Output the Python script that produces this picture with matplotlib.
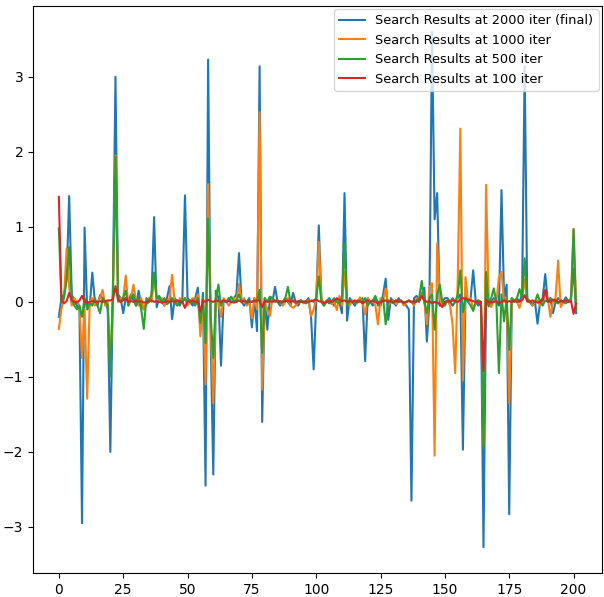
import numpy as np
import matplotlib
matplotlib.use("Agg")
from matplotlib import pyplot as plt

# search results at different iterations, one value per step (0..201)
res_2000 = [
    -0.20, 0.05, 0.10, 0.30, 1.41, 0.10, 0.02, -0.05, -0.10, -2.95,
    0.99, -0.10, -0.05, 0.39, 0.00, -0.05, 0.09, 0.05, 0.00, -0.10,
    -2.00, 0.20, 3.00, 0.10, 0.05, -0.15, 0.05, 0.00, 0.10, 0.02,
    -0.05, 0.15, -0.05, -0.10, -0.03, 0.00, 0.05, 1.13, -0.07, 0.05,
    0.00, -0.05, 0.05, 0.21, -0.23, 0.05, 0.00, -0.05, 0.05, 1.42,
    0.05, 0.00, -0.05, 0.05, 0.19, -0.30, 0.12, -2.45, 3.23, -0.50,
    -2.30, 0.15, 0.05, -0.85, 0.02, 0.00, 0.05, 0.00, 0.05, 0.10,
    0.65, 0.00, -0.05, 0.00, 0.05, -0.34, 0.05, -0.39, 3.14, -1.60,
    0.05, -0.37, 0.05, 0.00, 0.20, 0.00, -0.05, 0.00, 0.05, 0.00,
    -0.05, 0.12, 0.00, -0.05, 0.02, 0.00, 0.00, 0.05, -0.20, -0.90,
    0.00, 1.02, 0.05, -0.04, 0.00, 0.05, 0.00, -0.05, 0.05, 0.00,
    -0.15, 1.45, -0.25, 0.05, 0.00, -0.05, 0.02, 0.00, 0.05, -0.79,
    0.05, 0.00, -0.05, 0.05, 0.00, -0.05, 0.10, 0.31, -0.24, 0.05,
    0.00, -0.05, 0.05, 0.00, 0.00, -0.05, -0.10, -2.65, 0.05, 0.08,
    0.00, 0.10, 0.19, -0.53, 0.00, 3.60, 1.10, 1.45, -0.05, 0.00,
    0.05, 0.05, 0.00, -0.05, 0.00, 0.05, 0.10, -1.97, 0.10, 0.00,
    0.05, 0.42, 0.00, -0.05, 0.00, -3.27, 0.10, -0.06, 0.00, 0.05,
    0.00, -0.05, 1.49, 0.05, 0.23, -2.83, 0.05, 0.00, 0.05, 0.00,
    0.10, 3.14, 0.02, 0.00, -0.05, 0.00, -0.29, 0.00, 0.05, 0.37,
    0.00, 0.05, -0.15, 0.00, 0.05, 0.02, 0.00, 0.06, 0.00, 0.05,
    0.45, -0.15,
]
res_1000 = [
    -0.36, -0.09, 0.05, 0.71, 0.20, -0.05, 0.05, 0.00, -0.05, -0.75,
    -0.10, -1.29, 0.00, 0.05, -0.05, 0.00, 0.05, 0.16, -0.05, 0.00,
    -0.90, 0.10, 1.95, 0.00, 0.05, 0.05, 0.35, -0.05, 0.05, 0.23,
    0.00, -0.05, 0.05, -0.10, 0.00, 0.05, 0.00, 0.30, 0.05, 0.00,
    0.05, -0.05, 0.00, 0.05, 0.36, 0.00, -0.05, 0.05, 0.00, 0.05,
    -0.05, 0.00, 0.05, 0.00, 0.10, -0.46, 0.05, -1.10, 1.57, -0.30,
    -1.35, 0.05, 0.00, -0.20, 0.05, 0.00, -0.05, 0.00, 0.05, 0.00,
    0.24, 0.00, 0.05, -0.05, 0.00, -0.22, 0.05, -0.10, 2.53, -1.17,
    0.00, -0.10, -0.19, 0.05, 0.00, 0.02, 0.00, -0.05, 0.00, 0.05,
    -0.05, -0.08, -0.05, 0.00, 0.02, -0.02, 0.00, 0.02, -0.19, -0.10,
    0.05, 0.80, 0.05, -0.05, 0.00, 0.02, -0.03, 0.00, -0.11, 0.08,
    -0.05, 0.40, 0.00, -0.05, 0.02, 0.00, -0.02, 0.06, 0.00, -0.17,
    0.05, 0.00, 0.02, -0.05, -0.30, 0.05, 0.02, 0.18, -0.05, 0.00,
    0.02, -0.03, 0.00, 0.02, -0.05, 0.00, 0.02, 0.00, -0.05, 0.05,
    0.02, 0.10, 0.00, -0.30, 0.20, 0.25, -2.05, 0.78, 0.05, -0.05,
    0.00, 0.02, -0.05, -0.30, -0.95, 0.30, 2.31, -1.05, 0.33, 0.00,
    0.05, -0.10, 0.00, 0.02, 0.00, -1.90, 1.56, 0.05, -0.07, 0.02,
    0.00, 0.33, 0.40, 0.00, 0.05, -1.35, 0.05, 0.02, 0.00, -0.08,
    0.05, 0.30, 0.00, 0.02, -0.05, 0.00, 0.02, -0.05, 0.00, 0.10,
    0.05, -0.20, 0.00, 0.05, 0.55, -0.07, 0.00, 0.02, 0.00, 0.05,
    0.97, -0.10,
]
res_500 = [
    0.98, 0.00, 0.05, 0.30, 0.73, 0.05, -0.05, -0.10, -0.05, -0.20,
    0.05, -0.10, 0.00, -0.05, 0.05, -0.05, -0.15, 0.05, 0.00, -0.05,
    -0.99, 0.10, 1.93, 0.05, 0.00, 0.05, 0.15, -0.05, 0.05, 0.10,
    -0.05, 0.05, -0.10, -0.36, 0.05, 0.00, 0.10, 0.39, 0.05, 0.08,
    0.00, 0.05, -0.03, 0.00, 0.05, 0.00, -0.05, 0.02, 0.00, 0.05,
    0.00, 0.02, 0.00, -0.05, 0.05, -0.28, 0.05, -0.55, 1.11, -0.20,
    -0.75, 0.05, 0.23, -0.05, 0.02, 0.00, 0.03, 0.07, 0.00, 0.02,
    0.10, 0.00, 0.02, -0.02, 0.00, 0.00, 0.02, 0.00, 0.16, -0.68,
    0.05, 0.00, 0.07, 0.05, 0.00, 0.02, -0.02, 0.00, 0.05, 0.20,
    0.00, 0.02, -0.02, 0.00, 0.02, 0.00, -0.02, 0.00, 0.02, 0.00,
    0.05, 0.34, 0.00, -0.05, 0.02, -0.02, 0.00, 0.05, 0.00, -0.02,
    0.05, 0.78, -0.05, 0.02, 0.00, -0.02, 0.00, 0.02, 0.00, 0.05,
    -0.05, 0.00, 0.02, 0.08, -0.05, 0.00, 0.05, -0.30, 0.02, 0.00,
    -0.02, 0.02, 0.00, 0.02, -0.02, 0.00, 0.02, 0.00, -0.02, 0.02,
    0.05, 0.28, 0.00, -0.15, 0.05, 0.10, -0.37, 0.10, 0.23, 0.00,
    -0.05, 0.02, 0.00, 0.05, 0.00, 0.10, 0.42, -0.14, 0.05, 0.00,
    -0.05, -0.12, 0.00, 0.02, 0.00, -1.95, 0.40, -0.05, 0.05, 0.18,
    0.00, -0.95, 0.10, -0.26, 0.05, -0.64, 0.05, 0.00, 0.05, 0.17,
    0.05, 0.58, 0.05, 0.00, -0.02, 0.00, 0.10, 0.00, -0.05, 0.02,
    0.00, 0.05, 0.02, 0.00, -0.02, 0.02, 0.00, -0.02, 0.02, 0.00,
    0.97, -0.10,
]
res_100 = [
    1.40, 0.02, -0.02, 0.01, 0.12, 0.02, 0.00, -0.01, 0.02, 0.08,
    0.00, -0.01, 0.00, 0.01, 0.00, 0.00, 0.01, 0.00, 0.01, 0.02,
    0.02, 0.03, 0.21, 0.02, 0.00, 0.02, 0.05, 0.00, 0.01, 0.00,
    0.02, 0.00, 0.01, -0.01, 0.00, 0.01, 0.02, 0.00, 0.01, 0.00,
    -0.01, 0.00, 0.01, 0.00, 0.01, 0.00, 0.02, 0.00, 0.00, -0.08,
    0.01, 0.00, 0.02, 0.00, 0.01, -0.13, 0.02, 0.00, 0.03, 0.01,
    0.00, 0.02, 0.01, 0.00, 0.02, 0.00, 0.01, 0.00, -0.01, 0.00,
    0.02, 0.00, 0.01, 0.00, 0.01, 0.00, 0.01, 0.02, 0.02, -0.07,
    0.01, 0.00, 0.01, 0.00, 0.02, 0.00, 0.01, 0.00, 0.01, 0.02,
    0.00, 0.01, 0.00, 0.01, 0.00, 0.00, 0.01, 0.00, 0.01, 0.02,
    0.03, 0.01, 0.00, -0.01, 0.00, 0.01, 0.00, 0.02, 0.04, 0.03,
    0.01, 0.02, 0.00, 0.01, 0.00, 0.02, 0.00, 0.01, -0.02, 0.00,
    0.02, 0.00, 0.01, 0.00, -0.02, 0.00, 0.01, 0.02, 0.00, 0.01,
    0.00, 0.02, 0.00, 0.01, -0.01, 0.00, 0.01, 0.00, 0.01, 0.00,
    0.02, 0.08, 0.02, 0.00, 0.01, -0.02, 0.00, -0.01, -0.03, -0.07,
    0.00, 0.01, 0.00, 0.02, 0.01, 0.00, 0.03, 0.05, 0.04, 0.03,
    0.02, 0.01, 0.00, -0.01, 0.00, -0.92, 0.02, 0.00, -0.01, 0.00,
    0.01, -0.02, 0.00, 0.02, 0.00, 0.01, 0.00, 0.02, 0.00, 0.01,
    0.02, 0.09, 0.01, 0.00, 0.02, 0.00, -0.01, 0.00, 0.02, 0.16,
    0.01, 0.00, 0.03, 0.02, 0.00, 0.01, 0.00, 0.02, 0.00, 0.01,
    -0.16, -0.02,
]

labels = ['Search Results at 2000 iter (final)', 'Search Results at 1000 iter',
          'Search Results at 500 iter', 'Search Results at 100 iter']

fig = plt.figure(figsize=(6.04, 5.97), dpi=100)
ax = fig.add_subplot(1, 1, 1)
plt.subplots_adjust(left=33/604, right=602/604, top=1-6/597, bottom=1-573/597)

for series, lab in zip([res_2000, res_1000, res_500, res_100], labels):
    ax.plot(np.arange(len(series)), series, label=lab)

ax.legend(loc='upper right', fontsize=9.3, borderaxespad=0.25)
fig.savefig('out.png', dpi=100)
